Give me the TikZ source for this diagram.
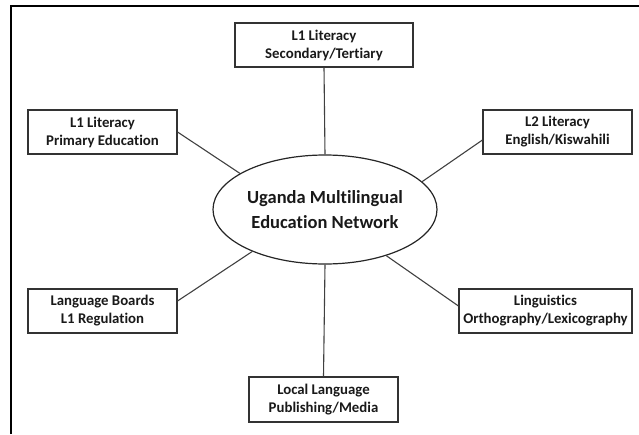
\documentclass[tikz,border=0pt]{standalone}
\usepackage{fontspec}
\setmainfont{Carlito}[Ligatures=NoCommon]
\usetikzlibrary{shapes.geometric}

\begin{document}
\begin{tikzpicture}[x=1pt,y=-1pt,
    topic/.style={draw=black!80, line width=1.1pt, rectangle, align=center,
        inner sep=0pt, minimum width=149pt, minimum height=44pt,
        font=\bfseries\fontsize{14.8}{18}\selectfont, text=black!90},
    hub/.style={draw=black!85, line width=1.2pt, ellipse, align=center,
        inner sep=0pt, minimum width=224pt, minimum height=109pt,
        font=\bfseries\fontsize{18.5}{25}\selectfont, text=black!90},
    link/.style={draw=black!75, line width=1.1pt}]

\useasboundingbox (0,0) rectangle (639,434);

% The frame
\draw[line width=2pt] (11,434) |- (639,6);

% The network in the middle
\node[hub] (net) at (325,209.5) {Uganda Multilingual\\Education Network};

% The six fields round it
\node[topic, minimum width=178pt] (sec) at (324,45) {L1 Literacy\\Secondary/Tertiary};
\node[topic] (prim) at (102.5,132) {L1 Literacy\\Primary Education};
\node[topic] (ltwo) at (557.5,132) {L2 Literacy\\English/Kiswahili};
\node[topic] (boards) at (102.5,311) {Language Boards\\L1 Regulation};
\node[topic, minimum width=173pt] (ling) at (545.5,311) {Linguistics\\Orthography/Lexicography};
\node[topic, minimum height=45pt] (media) at (323.5,399.5) {Local Language\\Publishing/Media};

% The spokes
\draw[link] (sec.south) -- (net.north);
\draw[link] (prim.east) -- (net.157);
\draw[link] ([yshift=-8pt]ltwo.west) -- (net.16);
\draw[link] ([yshift=10pt]boards.east) -- (net.210);
\draw[link] ([yshift=5pt]ling.west) -- (net.323);
\draw[link] (media.north) -- (net.south);

\end{tikzpicture}
\end{document}
